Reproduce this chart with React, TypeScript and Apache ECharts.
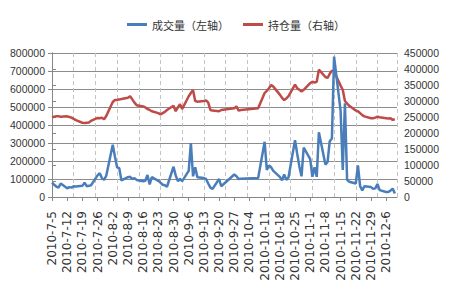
import React, { useEffect, useRef } from "react";
import * as echarts from "echarts";

// Trading dates (2010), month-day
const tradeDates = [
  "7-5","7-6","7-7","7-8","7-9","7-12","7-13","7-14","7-15","7-16","7-19","7-20","7-21","7-22","7-23","7-26","7-27","7-28","7-29","7-30",
  "8-2","8-3","8-4","8-5","8-6","8-9","8-10","8-11","8-12","8-13","8-16","8-17","8-18","8-19","8-20","8-23","8-24","8-25","8-26","8-27","8-30","8-31",
  "9-1","9-2","9-3","9-6","9-7","9-8","9-9","9-10","9-13","9-14","9-15","9-16","9-17","9-20","9-21","9-27","9-28","9-29","9-30",
  "10-8","10-11","10-12","10-13","10-14","10-15","10-18","10-19","10-20","10-21","10-22","10-25","10-26","10-27","10-28","10-29",
  "11-1","11-2","11-3","11-4","11-5","11-8","11-9","11-10","11-11","11-12","11-15","11-16","11-17","11-18","11-19","11-22","11-23","11-24","11-25","11-26","11-29","11-30",
  "12-1","12-2","12-3","12-6","12-7","12-8","12-9","12-10",
];

// 成交量 (left axis), in thousands
const volumeK = [
  80, 68, 58, 52, 75, 48, 55, 52, 60, 58, 62, 80, 60, 62, 65, 120, 132, 105, 95, 118,
  290, 225, 165, 160, 92, 110, 112, 100, 105, 95, 88, 90, 122, 70, 110, 90, 80, 68, 65, 57, 168, 120,
  88, 100, 88, 145, 300, 115, 165, 110, 105, 100, 75, 52, 45, 100, 60, 125, 115, 100, 102,
  105, 307, 150, 175, 165, 145, 112, 93, 125, 95, 110, 316, 240, 170, 115, 275,
  210, 112, 165, 112, 360, 180, 195, 310, 325, 780, 480, 150, 520, 95, 85, 75, 175, 60, 37, 60, 55, 45,
  48, 72, 38, 28, 28, 35, 47, 19,
];

// 持仓量 (right axis), in thousands
const openInterestK = [
  249, 251, 252, 252, 251, 252, 250, 248, 244, 240, 232, 231, 232, 233, 238, 247, 246, 248, 243, 253,
  297, 303, 303, 305, 306, 310, 315, 305, 295, 287, 283, 280, 275, 272, 268, 262, 258, 262, 266, 272, 285, 268,
  280, 290, 275, 315, 325, 334, 300, 298, 300, 302, 295, 272, 270, 268, 272, 277, 283, 270, 272,
  277, 325, 332, 340, 350, 345, 320, 310, 303, 308, 315, 351, 340, 335, 330, 335,
  356, 360, 358, 360, 398, 375, 372, 385, 395, 392, 348, 335, 300, 292, 285, 270, 268, 262, 256, 252, 246, 246,
  248, 251, 249, 246, 245, 246, 241, 243,
];

const leftTicks = { min: 0, max: 800000, interval: 100000 };
const rightTicks = { min: 0, max: 450000, interval: 50000 };

const seriesNames = ["成交量（左轴）", "持仓量（右轴）"];

const START = Date.UTC(2010, 6, 5);
const DAY = 86400000;
const dayIndex = (md: string) => {
  const [m, d] = md.split("-").map(Number);
  return Math.round((Date.UTC(2010, m - 1, d) - START) / DAY);
};
const dayLabel = (v: number) => {
  const dt = new Date(START + v * DAY);
  return `${dt.getUTCFullYear()}-${dt.getUTCMonth() + 1}-${dt.getUTCDate()}`;
};

export default function App() {
  const ref = useRef<HTMLDivElement>(null);
  useEffect(() => {
    if (!ref.current) return;
    const chart = echarts.init(ref.current, undefined, { renderer: "svg" });
    const xs = tradeDates.map(dayIndex);
    const lastDay = 159;
    const axisGray = "#868686";
    const yLabel = {
      fontFamily: "Liberation Sans",
      fontSize: 10.5,
      color: "#333333",
      margin: 7,
      formatter: (v: number) => String(v),
    };
    chart.setOption({
      animation: false,
      backgroundColor: "#ffffff",
      legend: {
        top: 14,
        left: 122,
        itemGap: 14,
        itemWidth: 20,
        itemHeight: 3,
        icon: "rect",
        textStyle: { fontFamily: "Noto Sans CJK SC", fontSize: 11, color: "#333333" },
        data: seriesNames,
      },
      grid: { left: 52, right: 53, top: 53, bottom: 103 },
      xAxis: [
        {
          type: "value",
          min: 0,
          max: lastDay,
          interval: 7,
          axisLine: { show: true, lineStyle: { color: axisGray } },
          axisTick: { show: true, length: 4, lineStyle: { color: axisGray } },
          splitLine: { show: false },
          axisLabel: {
            rotate: 90,
            margin: 14,
            fontFamily: "DejaVu Sans",
            fontSize: 12,
            color: "#333333",
            showMaxLabel: false,
            hideOverlap: false,
            formatter: (v: number) => (v % 7 === 0 ? dayLabel(v) : ""),
          },
        },
        {
          type: "value",
          position: "bottom",
          min: 0,
          max: lastDay,
          interval: 10,
          axisLine: { show: false },
          axisTick: { show: false },
          axisLabel: { show: false },
          splitLine: { show: true, lineStyle: { color: "#c4c4c4", type: [4, 3], width: 1 } },
        },
      ],
      yAxis: [
        {
          type: "value",
          ...leftTicks,
          axisLine: { show: true, lineStyle: { color: axisGray } },
          axisTick: { show: true, length: 4, lineStyle: { color: axisGray } },
          axisLabel: yLabel,
          splitLine: { show: true, lineStyle: { color: "#8c8c8c", width: 1 } },
        },
        {
          type: "value",
          position: "right",
          ...rightTicks,
          axisLine: { show: true, lineStyle: { color: axisGray } },
          axisTick: { show: true, length: 4, lineStyle: { color: axisGray } },
          axisLabel: yLabel,
          splitLine: { show: false },
        },
      ],
      series: [
        {
          name: seriesNames[0],
          type: "line",
          xAxisIndex: 0,
          yAxisIndex: 0,
          showSymbol: false,
          color: "#4a7ebb",
          lineStyle: { color: "#4a7ebb", width: 2.5 },
          data: xs.map((x, i) => [x, volumeK[i] * 1000]),
          z: 3,
        },
        {
          name: seriesNames[1],
          type: "line",
          xAxisIndex: 0,
          yAxisIndex: 1,
          showSymbol: false,
          color: "#be4b48",
          lineStyle: { color: "#be4b48", width: 2.5 },
          data: xs.map((x, i) => [x, openInterestK[i] * 1000]),
          z: 2,
        },
      ],
    });
    return () => chart.dispose();
  }, []);
  return (
    <div
      ref={ref}
      style={{ position: "absolute", left: 0, top: 0, width: 450, height: 300 }}
    />
  );
}
